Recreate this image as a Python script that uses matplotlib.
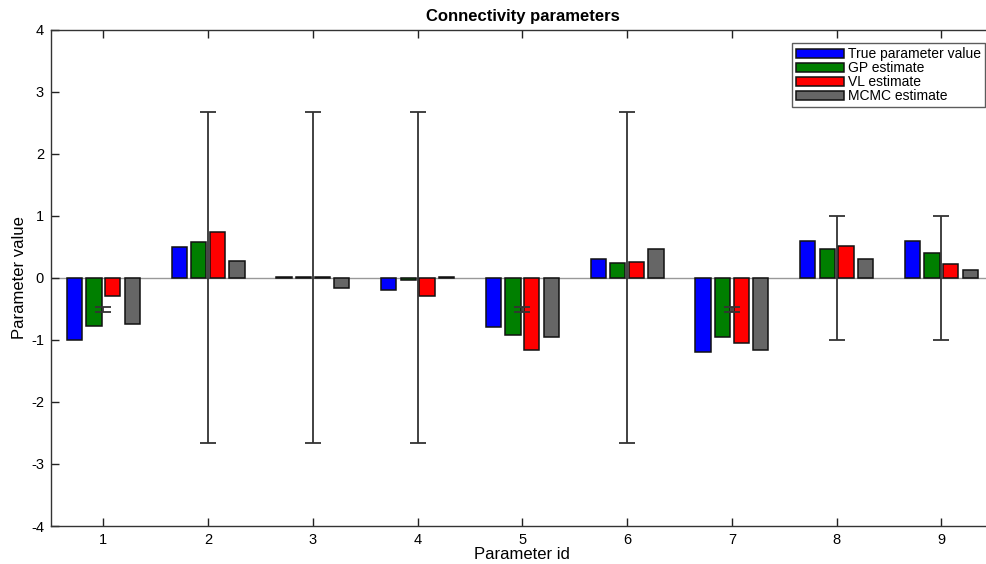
import matplotlib
matplotlib.use("Agg")
import matplotlib.pyplot as plt
import numpy as np

plt.rcParams['font.family'] = ['Liberation Sans', 'DejaVu Sans']
plt.rcParams['axes.unicode_minus'] = False

param_ids = [1, 2, 3, 4, 5, 6, 7, 8, 9]
series_names = ["True parameter value", "GP estimate", "VL estimate", "MCMC estimate"]
true_vals = [-1.0, 0.5, 0.01, -0.2, -0.8, 0.3, -1.2, 0.6, 0.6]
gp_vals = [-0.77, 0.57, 0.01, -0.03, -0.92, 0.23, -0.96, 0.47, 0.4]
vl_vals = [-0.3, 0.73, 0.01, -0.29, -1.17, 0.26, -1.05, 0.51, 0.22]
mcmc_vals = [-0.74, 0.27, -0.17, 0.01, -0.95, 0.46, -1.16, 0.3, 0.12]
err_center = [-0.51, 0.0, 0.0, 0.0, -0.51, 0.0, -0.51, 0.0, 0.0]
err_half = [0.035, 2.67, 2.67, 2.67, 0.035, 2.67, 0.035, 1.0, 1.0]
colors = ["#0000ff", "#007f00", "#ff0000", "#666666"]

fig = plt.figure(figsize=(9.86, 5.64), dpi=100)
ax = fig.add_axes([51/986, 1-526/564, 9*104.75/986, (526-29.5)/564])

x = np.array(param_ids, dtype=float)
offsets = [-0.275, -0.09, 0.09, 0.275]
width = 0.145
series = [true_vals, gp_vals, vl_vals, mcmc_vals]
ax.axhline(0, color="#999999", lw=1.0, zorder=1)
handles = []
for vals, off, c, name in zip(series, offsets, colors, series_names):
    b = ax.bar(x + off, vals, width=width, color=c, edgecolor="#111111", linewidth=1.1, label=name, zorder=2)
    handles.append(b)

ax.errorbar(x, err_center, yerr=err_half, fmt='none', ecolor="#333333", elinewidth=1.3, capsize=6, capthick=1.3, zorder=3)

ax.set_xlim(0.5, 9.5)
ax.set_ylim(-4, 4)
ax.set_xticks(param_ids)
ax.set_yticks(range(-4, 5))
ax.tick_params(direction='in', top=True, right=True, length=6, width=1, labelsize=10.5, colors="#222222", labelcolor="black", pad=5)
for s in ax.spines.values():
    s.set_linewidth(1.0)
    s.set_color("#333333")
ax.set_title("Connectivity parameters", fontsize=12, fontweight='bold', pad=6)
ax.set_xlabel("Parameter id", fontsize=12, labelpad=0)
ax.set_ylabel("Parameter value", fontsize=12, labelpad=3)

leg = ax.legend(handles=handles, loc='upper right', bbox_to_anchor=(985/986, 1-43/564),
                bbox_transform=fig.transFigure, fontsize=10, frameon=True, fancybox=False,
                edgecolor="#333333", handlelength=3.5, handleheight=0.65, labelspacing=0.0,
                handletextpad=0.25, borderpad=0.3, borderaxespad=0)
leg.get_frame().set_linewidth(1.0)

fig.savefig("out.png", dpi=100)
